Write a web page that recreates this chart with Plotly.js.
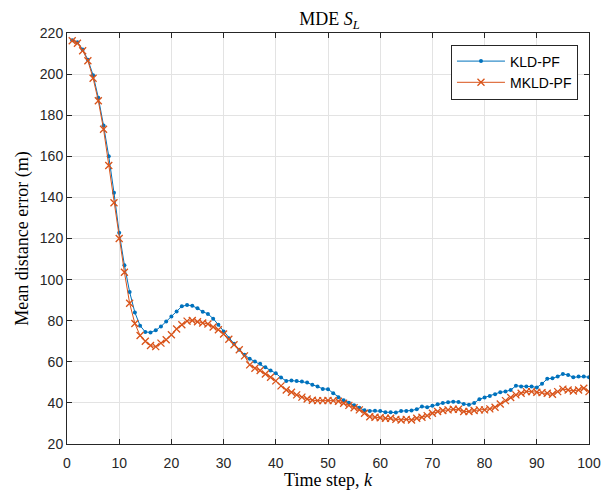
<!DOCTYPE html>
<html>
<head>
<meta charset="utf-8">
<script src="https://cdn.plot.ly/plotly-3.0.1.min.js"></script>
<style>html,body{margin:0;padding:0;background:#fff;}#chart{width:603px;height:490px;}</style>
</head>
<body>
<div id="chart"></div>
<script>
const steps = Array.from({length: 100}, (_, i) => i + 1);
const kldPF = [216.5,215.5,212,207,199.5,188.5,175,160,142.3,122.8,
  107,94,84,77.6,74.5,74.3,75.3,77.2,79.6,82.1,
  84.5,87,87.6,87.3,86,84.4,83.3,81,78,74.8,
  71.5,68.8,65.9,63.4,61.5,60.1,59,57.4,55.8,54.4,
  52.3,50.7,50.9,50.6,50.4,49.9,48.8,48,46.8,46.7,
  44.7,42.8,41.3,40.1,38.8,37.6,36.4,36.1,36.2,36,
  35.5,35.5,35.3,36,36,36.3,36.9,38.2,37.9,38.6,
  39.4,39.9,40.3,40.6,40.4,39.5,39.1,39.9,41.8,42.6,
  43.4,44.2,45.2,45.5,46.3,48.3,48,48,48,47.5,
  49.3,51.7,52,52.8,54.1,53.6,52.5,52.8,52.8,52.5];
const mkldPF = [216.2,215,211.4,206.5,198,187,173.2,155.5,137.4,120,
  103.6,88.5,78.6,72.8,70,67.9,67.4,69.1,70.7,73.2,
  76,78,79.8,80.1,79.5,78.9,78.4,76.9,75.6,73.5,
  71,68.3,65.9,62.9,58.5,56.9,55.8,54.1,52.5,50.7,
  48.3,46.3,45.2,43.9,42.8,41.9,41.3,41.1,41.1,41.2,
  41.1,40.8,39.8,38.8,37.6,36.6,35,33.3,33,32.8,
  32.5,32.5,32,31.7,32,31.7,32.5,33,33.8,35,
  35.8,36.3,36.6,36.9,36.9,35.8,35.8,36.3,36.6,36.6,
  37.1,37.9,39.5,41.1,42.6,43.9,44.7,45.5,45.5,45.2,
  45,44.7,44.2,45.5,46.7,46.3,45.8,46.3,47.1,45.5];
const seriesNames = ['KLD-PF', 'MKLD-PF'];
const xTicks = [0,10,20,30,40,50,60,70,80,90,100];
const yTicks = [20,40,60,80,100,120,140,160,180,200,220];

const serif = 'Liberation Serif, Times New Roman, serif';
const sans = 'Liberation Sans, Arial, sans-serif';

const axisCommon = {
  showline: true, linecolor: '#262626', linewidth: 1, mirror: 'ticks',
  ticks: 'inside', ticklen: 5, tickcolor: '#262626', tickwidth: 1,
  showgrid: true, gridcolor: '#e3e3e3', gridwidth: 1, zeroline: false,
  tickfont: {family: sans, size: 14, color: '#262626'},
  tickmode: 'array'
};

const traces = [
  {x: steps, y: kldPF, name: seriesNames[0], type: 'scatter', mode: 'lines+markers',
   line: {color: '#0072BD', width: 1}, marker: {color: '#0072BD', size: 4, symbol: 'circle'}},
  {x: steps, y: mkldPF, name: seriesNames[1], type: 'scatter', mode: 'lines+markers',
   line: {color: '#D95319', width: 1}, marker: {color: '#D95319', size: 7, symbol: 'x-thin', line: {color: '#D95319', width: 1.3}}}
];

const layout = {
  width: 603, height: 490,
  margin: {l: 67, r: 14, t: 33, b: 46},
  paper_bgcolor: '#fff', plot_bgcolor: '#fff',
  title: {text: 'MDE <i>S</i><sub><i>L</i></sub>', xref: 'container', yref: 'container',
    x: 0.5464, xanchor: 'center', y: 0.962, yanchor: 'middle',
    font: {family: serif, size: 18, color: '#000'}},
  xaxis: Object.assign({}, axisCommon, {range: [0, 100], tickvals: xTicks, ticklabelstandoff: 6,
    title: {text: 'Time step, <i>k</i>', standoff: 2, font: {family: serif, size: 18, color: '#000'}}}),
  yaxis: Object.assign({}, axisCommon, {range: [20, 220], tickvals: yTicks,
    title: {text: 'Mean distance error (m)', standoff: 6, font: {family: serif, size: 18, color: '#000'}}}),
  legend: {x: 0.7356, y: 0.972, xanchor: 'left', yanchor: 'top',
    bgcolor: '#fff', bordercolor: '#262626', borderwidth: 1,
    font: {family: sans, size: 14, color: '#000'},
    itemwidth: 48, tracegroupgap: 0, entrywidth: 80, entrywidthmode: 'pixels'},
  showlegend: true
};

Plotly.newPlot('chart', traces, layout, {displayModeBar: false, staticPlot: true});
</script>
</body>
</html>
